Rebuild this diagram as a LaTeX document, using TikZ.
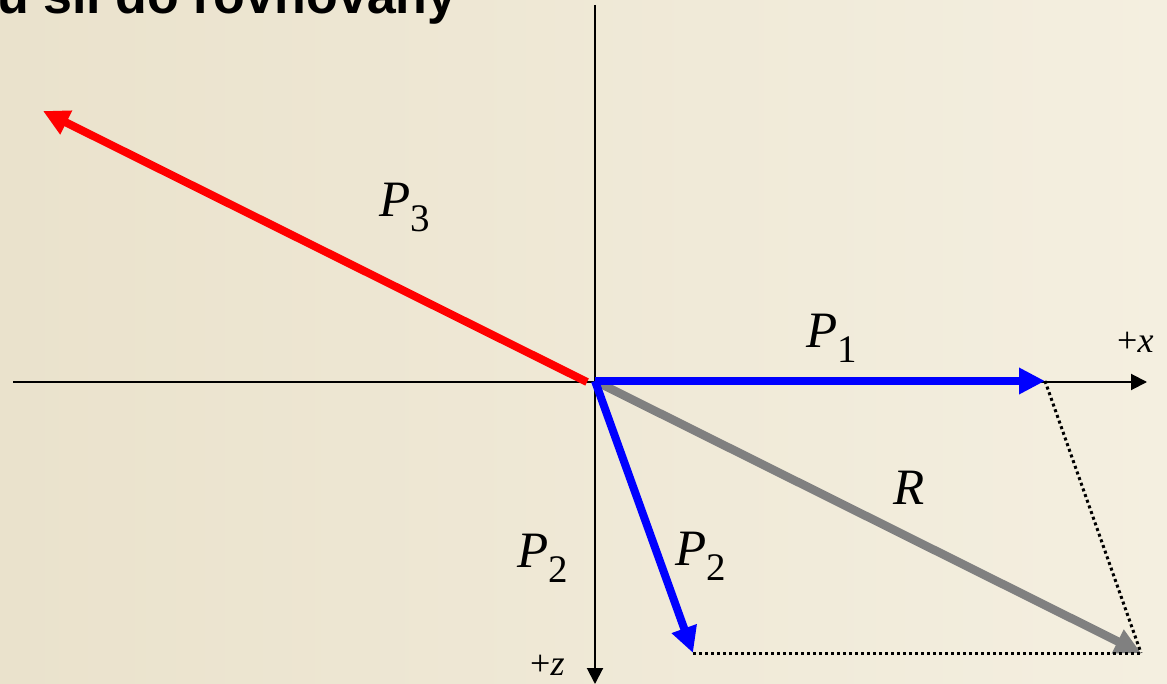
\documentclass[tikz,border=0pt]{standalone}
\usepackage{fontspec}
\setmainfont{Liberation Serif}
\newfontfamily\headfont{Liberation Sans}
\usetikzlibrary{arrows.meta}
\definecolor{bgleft}{RGB}{234,226,204}
\definecolor{bgright}{RGB}{244,239,224}
\definecolor{rgray}{RGB}{128,128,128}
\newcommand{\vlab}[2]{\textit{#1}\raisebox{-15pt}{\fontsize{39}{39}\selectfont #2}}

\begin{document}
\begin{tikzpicture}[x=1pt,y=-1pt,
  axis/.style={line width=2pt,-{Triangle[length=16pt,width=16pt]}},
  force/.style={line width=8pt,-{Triangle[length=26pt,width=25pt]}},
  closing/.style={line width=3pt,dash pattern=on 3pt off 3pt},
  lab/.style={anchor=base west,inner sep=0pt,font=\fontsize{51}{51}\selectfont},
  sign/.style={anchor=base west,inner sep=0pt,font=\fontsize{36}{36}\selectfont}]
\useasboundingbox (0,0) rectangle (1167,684);
\shade[left color=bgleft,right color=bgright] (0,0) rectangle (1167,684);
\node[anchor=base west,inner sep=0pt,font=\headfont\bfseries\fontsize{52}{52}\selectfont] (head) at (-3,14) {u sil do rovnováhy};
% axes
\coordinate (xl) at (13,382);
\coordinate (xr) at (1147,382);
\coordinate (zt) at (595,5);
\coordinate (zb) at (595,684);
\draw[axis] (xl) -- (xr);
\draw[axis] (zt) -- (zb);
% forces
\coordinate (o) at (595,381);
\coordinate (p3s) at (587,382);
\coordinate (p3) at (43,111);
\coordinate (p1) at (1045,381);
\coordinate (p2) at (693,653);
\coordinate (r) at (1141,653);
\draw[force,red] (p3s) -- (p3);
\draw[force,rgray,line width=8.5pt] (o) -- (r);
\draw[force,blue] (o) -- (p1);
\draw[force,blue] (o) -- (p2);
\draw[closing] (p1) -- (r);
\draw[closing] (p2) -- (r);
% labels
\node[lab] (l3) at (379,217) {\vlab{P}{3}};
\node[lab] (l1) at (806,348) {\vlab{P}{1}};
\node[lab] (lr) at (893,504) {\textit{R}};
\node[lab] (l2a) at (517,567) {\vlab{P}{2}};
\node[lab] (l2b) at (675,565) {\vlab{P}{2}};
\node[sign] (lx) at (1117,353) {+\textit{x}};
\node[sign] (lz) at (530,675) {+\textit{z}};
\end{tikzpicture}
\end{document}
